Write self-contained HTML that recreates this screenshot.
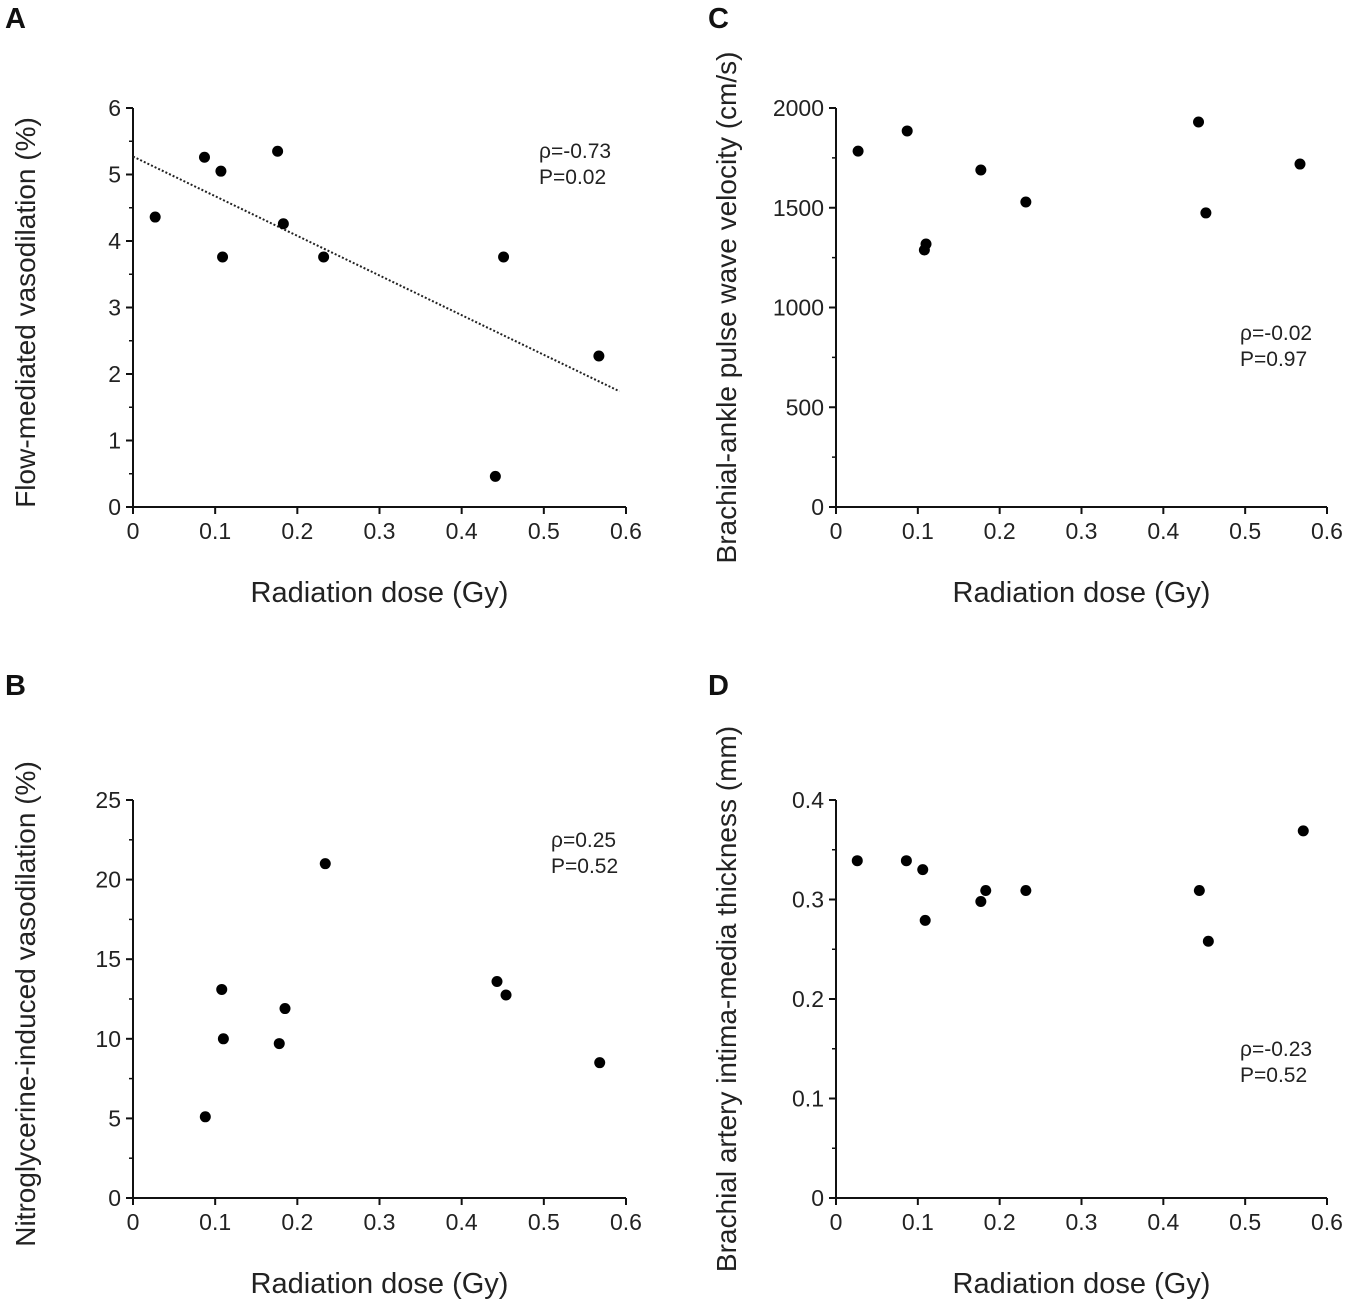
<!DOCTYPE html>
<html><head><meta charset="utf-8"><style>
body{margin:0;background:#fff}
svg{display:block;font-family:"Liberation Sans",sans-serif}
</style></head><body>
<svg width="1350" height="1313" viewBox="0 0 1350 1313" id="fig"></svg>
<script>
const xTicks=[0,0.1,0.2,0.3,0.4,0.5,0.6];
const xTickLabels=["0","0.1","0.2","0.3","0.4","0.5","0.6"];
const aX=[0.027,0.087,0.107,0.109,0.176,0.183,0.232,0.451,0.441,0.567];
const aY=[4.36,5.26,5.05,3.76,5.35,4.26,3.76,3.76,0.46,2.27];
const aTrend=[[0,5.27],[0.592,1.74]];
const aYTicks=[0,1,2,3,4,5,6];
const cX=[0.027,0.087,0.110,0.108,0.177,0.232,0.443,0.452,0.567];
const cY=[1784,1885,1318,1288,1689,1529,1930,1474,1719];
const cYTicks=[0,500,1000,1500,2000];
const bX=[0.088,0.108,0.110,0.178,0.185,0.234,0.443,0.454,0.568];
const bY=[5.1,13.1,10.0,9.7,11.9,21.0,13.6,12.75,8.5];
const bYTicks=[0,5,10,15,20,25];
const dX=[0.026,0.086,0.106,0.109,0.177,0.183,0.232,0.444,0.455,0.571];
const dY=[0.339,0.339,0.330,0.279,0.298,0.309,0.309,0.309,0.258,0.369];
const dYTicks=[0,0.1,0.2,0.3,0.4];
const dYTickLabels=["0","0.1","0.2","0.3","0.4"];

const NS="http://www.w3.org/2000/svg";
const svg=document.getElementById('fig');
function el(tag,attrs,parent,text){const e=document.createElementNS(NS,tag);for(const k in attrs)e.setAttribute(k,attrs[k]);if(text!==undefined)e.textContent=text;(parent||svg).appendChild(e);return e;}

function panel(o){
  const g=el('g',{});
  
  
  const sx=v=>o.x0+(v-0)/0.6*(o.x1-o.x0);
  const sy=v=>o.y0-(v-o.ymin)/(o.ymax-o.ymin)*(o.y0-o.y1);
  const L=el('text',{x:o.lx,y:o.ly,'font-size':29,'font-weight':'bold',fill:'#111'},g,o.letter);
  
  
  const xa=el('line',{x1:o.x0,y1:o.y0,x2:o.x1,y2:o.y0,stroke:'#111','stroke-width':2},g);
  
  
  const ya=el('line',{x1:o.x0,y1:o.y0,x2:o.x0,y2:o.y1,stroke:'#111','stroke-width':2},g);
  
  
  xTicks.forEach((t,i)=>{
    el('line',{x1:sx(t),y1:o.y0,x2:sx(t),y2:o.y0+7,stroke:'#111','stroke-width':2},g);
    const tl=el('text',{x:sx(t),y:o.y0+32,'font-size':23,'text-anchor':'middle',fill:'#222'},g,xTickLabels[i]);
    
    
  });
  o.yt.forEach((t,i)=>{
    el('line',{x1:o.x0-7,y1:sy(t),x2:o.x0,y2:sy(t),stroke:'#111','stroke-width':2},g);
    if(i<o.yt.length-1){const m=(t+o.yt[i+1])/2;el('line',{x1:o.x0-4,y1:sy(m),x2:o.x0,y2:sy(m),stroke:'#111','stroke-width':1.5},g);}
    const tl=el('text',{x:o.x0-12,y:sy(t)+8,'font-size':23,'text-anchor':'end',fill:'#222'},g,o.ytl?o.ytl[i]:String(t));
    
    
  });
  const xt=el('text',{x:(o.x0+o.x1)/2,y:o.y0+95,'font-size':29,'text-anchor':'middle',fill:'#222'},g,'Radiation dose (Gy)');
  
  
  const cy=(o.y0+o.y1)/2+o.ytOff;
  const yt=el('text',{x:o.ytx,y:cy,'font-size':28,'text-anchor':'middle',fill:'#222',transform:`rotate(-90 ${o.ytx} ${cy})`},g,o.ytitle);
  
  
  if(o.trend){
    const tr=el('line',{x1:sx(o.trend[0][0]),y1:sy(o.trend[0][1]),x2:sx(o.trend[1][0]),y2:sy(o.trend[1][1]),stroke:'#222','stroke-width':2,'stroke-dasharray':'2 2'},g);
    
    
  }
  o.xs.forEach((v,i)=>{
    const c=el('circle',{cx:sx(v),cy:sy(o.ys[i]),r:5.5,fill:'#000'},g);
    
    
  });
  const s1=el('text',{x:o.tx,y:o.ty,'font-size':21,fill:'#222'},g,o.stat[0]);
  
  
  const s2=el('text',{x:o.tx,y:o.ty+26,'font-size':21,fill:'#222'},g,o.stat[1]);
  
  
}
panel({letter:'A',lx:5,ly:28,x0:133,x1:626,y0:507,y1:108,ymin:0,ymax:6,yt:aYTicks,xs:aX,ys:aY,trend:aTrend,
  ytitle:'Flow-mediated vasodilation (%)',ytx:35,ytOff:5,tx:539,ty:158,stat:['ρ=-0.73','P=0.02']});
panel({letter:'C',lx:708,ly:28,x0:836,x1:1327,y0:507,y1:108,ymin:0,ymax:2000,yt:cYTicks,xs:cX,ys:cY,
  ytitle:'Brachial-ankle pulse wave velocity (cm/s)',ytx:736,ytOff:0,tx:1240,ty:340,stat:['ρ=-0.02','P=0.97']});
panel({letter:'B',lx:5,ly:695,x0:133,x1:626,y0:1198,y1:800,ymin:0,ymax:25,yt:bYTicks,xs:bX,ys:bY,
  ytitle:'Nitroglycerine-induced vasodilation (%)',ytx:35,ytOff:5,tx:551,ty:847,stat:['ρ=0.25','P=0.52']});
panel({letter:'D',lx:708,ly:695,x0:836,x1:1327,y0:1198,y1:800,ymin:0,ymax:0.4,yt:dYTicks,ytl:dYTickLabels,xs:dX,ys:dY,
  ytitle:'Brachial artery intima-media thickness (mm)',ytx:736,ytOff:0,tx:1240,ty:1056,stat:['ρ=-0.23','P=0.52']});
</script>
</body></html>
